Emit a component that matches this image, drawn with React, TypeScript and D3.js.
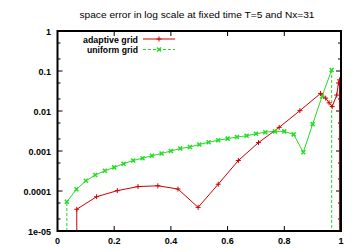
import React from 'react';
import * as d3 from 'd3';

// values (error, log scale); 1e-6 = dropped below the axis
const adaptiveX = [0.068, 0.068, 0.138, 0.211, 0.284, 0.354, 0.425, 0.496, 0.567, 0.638, 0.709, 0.782, 0.855, 0.928, 0.946, 0.958, 0.969, 0.985, 0.991, 0.995, 0.996];
const adaptiveY = [1e-6, 3.5e-5, 7.2e-5, 1.02e-4, 1.29e-4, 1.35e-4, 1.12e-4, 3.9e-5, 1.48e-4, 5.8e-4, 1.62e-3, 3.9e-3, 1.02e-2, 2.75e-2, 2.1e-2, 1.6e-2, 1.29e-2, 2.5e-2, 5.0e-2, 6.0e-2, 1e-6];

const uniformX = [0.033, 0.033, 0.067, 0.1, 0.133, 0.167, 0.2, 0.233, 0.267, 0.3, 0.333, 0.367, 0.4, 0.433, 0.467, 0.5, 0.533, 0.567, 0.6, 0.633, 0.667, 0.7, 0.733, 0.767, 0.8, 0.833, 0.867, 0.9, 0.933, 0.967, 0.967];
const uniformY = [1e-6, 5.4e-5, 1.1e-4, 1.8e-4, 2.5e-4, 3.2e-4, 3.9e-4, 4.8e-4, 5.8e-4, 6.6e-4, 7.6e-4, 8.7e-4, 1.0e-3, 1.15e-3, 1.26e-3, 1.45e-3, 1.66e-3, 1.86e-3, 2.04e-3, 2.24e-3, 2.4e-3, 2.7e-3, 2.95e-3, 3.1e-3, 3.1e-3, 2.6e-3, 9.3e-4, 4.7e-3, 2.3e-2, 0.106, 1e-6];

const yTicks = [1, 0.1, 0.01, 0.001, 0.0001, 0.00001];
const yTickLabels = ['1', '0.1', '0.01', '0.001', '0.0001', '1e-05'];
const yMinorTicks = [0.5, 0.2, 0.05, 0.02, 0.005, 0.002, 0.0005, 0.0002, 0.00005, 0.00002];
const xTicks = [0, 0.2, 0.4, 0.6, 0.8, 1];
const xTickLabels = ['0', '0.2', '0.4', '0.6', '0.8', '1'];

const title = 'space error in log scale at fixed time T=5 and Nx=31';
const seriesNames = ['adaptive grid', 'uniform grid'];

const RED = '#cc0000';
const GREEN = '#22dd22';

const left = 57.5, right = 341, top = 31, bottom = 231;

export default function App() {
  const x = d3.scaleLinear().domain([0, 1]).range([left, right]);
  const y = d3.scaleLog().domain([1e-5, 1]).range([bottom, top]);

  const line = d3.line<[number, number]>()
    .x(d => x(d[0]))
    .y(d => y(d[1]));

  const adaptive = adaptiveX.map((v, i) => [v, adaptiveY[i]] as [number, number]);
  const uniform = uniformX.map((v, i) => [v, uniformY[i]] as [number, number]);

  const font = '"Liberation Sans", Arial, sans-serif';

  const plus = (cx: number, cy: number, k: string | number) => (
    <path key={k} d={`M${cx - 2.5},${cy}H${cx + 2.5}M${cx},${cy - 2.5}V${cy + 2.5}`} stroke={RED} strokeWidth={1} />
  );
  const cross = (cx: number, cy: number, k: string | number) => (
    <path key={k} d={`M${cx - 2},${cy - 2}L${cx + 2},${cy + 2}M${cx - 2},${cy + 2}L${cx + 2},${cy - 2}`} stroke={GREEN} strokeWidth={1.5} />
  );

  return (
    <svg width={360} height={252} style={{ position: 'absolute', left: 0, top: 0, background: '#fff' }}>
      <defs>
        <clipPath id="plotClip">
          <rect x={left} y={top} width={right - left} height={bottom - top} />
        </clipPath>
      </defs>

      <text x={197} y={18} textAnchor="middle" fontFamily={font} fontSize={9} textLength={235} lengthAdjust="spacingAndGlyphs">{title}</text>

      {/* ticks */}
      {yTicks.map((t, i) => (
        <g key={'yt' + i}>
          <line x1={left} x2={left + 5} y1={y(t)} y2={y(t)} stroke="#000" />
          <line x1={right - 5} x2={right} y1={y(t)} y2={y(t)} stroke="#000" />
          <text x={51} y={y(t) + 3.5} textAnchor="end" fontFamily={font} fontSize={9} fontWeight="bold">{yTickLabels[i]}</text>
        </g>
      ))}
      {yMinorTicks.map((t, i) => (
        <g key={'ym' + i}>
          <line x1={left} x2={left + 3} y1={y(t)} y2={y(t)} stroke="#000" />
          <line x1={right - 3} x2={right} y1={y(t)} y2={y(t)} stroke="#000" />
        </g>
      ))}
      {xTicks.map((t, i) => (
        <g key={'xt' + i}>
          <line x1={x(t)} x2={x(t)} y1={bottom} y2={bottom - 5} stroke="#000" />
          <line x1={x(t)} x2={x(t)} y1={top} y2={top + 5} stroke="#000" />
          <text x={x(t)} y={244} textAnchor="middle" fontFamily={font} fontSize={9} fontWeight="bold">{xTickLabels[i]}</text>
        </g>
      ))}

      {/* data */}
      <g clipPath="url(#plotClip)">
        <path d={line(uniform.slice(0, 2)) || ''} fill="none" stroke={GREEN} strokeWidth={1} strokeDasharray="3,2" />
        <path d={line(uniform.slice(1, uniform.length - 1)) || ''} fill="none" stroke={GREEN} strokeWidth={1} />
        <path d={line(uniform.slice(uniform.length - 2)) || ''} fill="none" stroke={GREEN} strokeWidth={1} strokeDasharray="3,2" />
        <path d={line(adaptive) || ''} fill="none" stroke={RED} strokeWidth={1} />
        <line x1={x(0.995) + 0.5} x2={x(0.995) + 0.5} y1={y(0.06)} y2={bottom} stroke="#7a1010" strokeWidth={1.5} />
        {uniform.filter(d => d[1] >= 1e-5).map((d, i) => cross(x(d[0]), y(d[1]), 'u' + i))}
        {adaptive.filter(d => d[1] >= 1e-5).map((d, i) => plus(x(d[0]), y(d[1]), 'a' + i))}
      </g>

      {/* frame */}
      <rect x={left} y={top} width={right - left} height={bottom - top} fill="none" stroke="#000" strokeWidth={2} />

      {/* legend */}
      <text x={138} y={42.5} textAnchor="end" fontFamily={font} fontSize={9} fontWeight="bold" textLength={55} lengthAdjust="spacingAndGlyphs">{seriesNames[0]}</text>
      <line x1={143} x2={175} y1={39} y2={39} stroke={RED} />
      {plus(159, 39, 'lp')}
      <text x={138} y={53} textAnchor="end" fontFamily={font} fontSize={9} fontWeight="bold" textLength={51} lengthAdjust="spacingAndGlyphs">{seriesNames[1]}</text>
      <line x1={143} x2={175} y1={49.5} y2={49.5} stroke={GREEN} strokeDasharray="3,2" />
      {cross(159, 49.5, 'lx')}
    </svg>
  );
}
